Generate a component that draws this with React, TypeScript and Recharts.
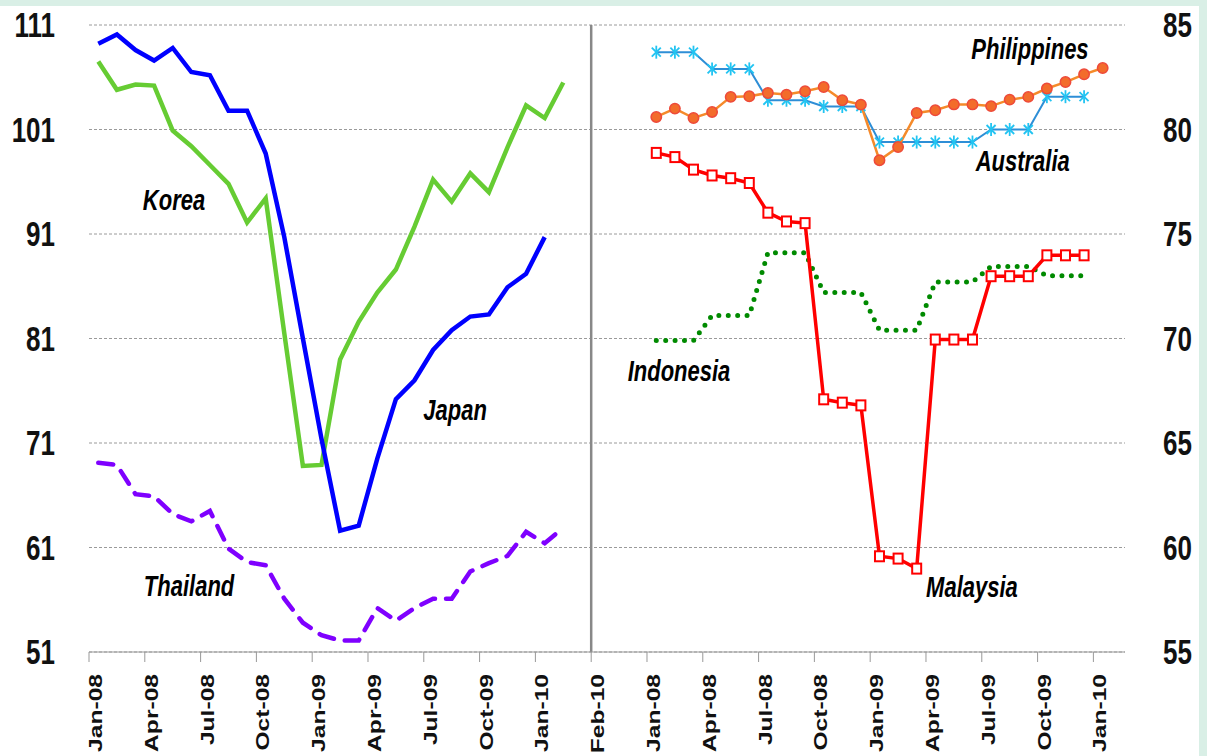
import React from 'react';
import {
  ComposedChart,
  Line,
  XAxis,
  YAxis,
  CartesianGrid,
  ReferenceLine,
  ReferenceDot,
} from 'recharts';

// left panel: Jan-08 .. Feb-10, right panel: Jan-08 .. Jan-10
const months = [
  'Jan-08', 'Feb-08', 'Mar-08', 'Apr-08', 'May-08', 'Jun-08', 'Jul-08', 'Aug-08', 'Sep-08',
  'Oct-08', 'Nov-08', 'Dec-08', 'Jan-09', 'Feb-09', 'Mar-09', 'Apr-09', 'May-09', 'Jun-09',
  'Jul-09', 'Aug-09', 'Sep-09', 'Oct-09', 'Nov-09', 'Dec-09', 'Jan-10', 'Feb-10',
];

const leftTickLabels = ['Jan-08', 'Apr-08', 'Jul-08', 'Oct-08', 'Jan-09', 'Apr-09', 'Jul-09', 'Oct-09', 'Jan-10', 'Feb-10'];
const rightTickLabels = ['Jan-08', 'Apr-08', 'Jul-08', 'Oct-08', 'Jan-09', 'Apr-09', 'Jul-09', 'Oct-09', 'Jan-10'];
const leftValueTicks = [51, 61, 71, 81, 91, 101, 111];
const rightValueTicks = [55, 60, 65, 70, 75, 80, 85];

// left axis series
const japan = [109.2, 110.1, 108.6, 107.6, 108.8, 106.5, 106.2, 102.8, 102.8, 98.7, 90.7, 81.0, 71.4,
  62.6, 63.1, 69.5, 75.2, 77.0, 79.9, 81.8, 83.1, 83.3, 85.9, 87.2, 90.7];
const korea = [107.5, 104.8, 105.3, 105.2, 100.9, 99.4, 97.6, 95.8, 92.1, 94.4, 81.5, 68.8, 68.9,
  79.0, 82.6, 85.4, 87.6, 91.7, 96.2, 94.1, 96.8, 95.0, 99.3, 103.3, 102.1, 105.5];
const thailand = [69.1, 68.9, 66.1, 65.9, 64.2, 63.5, 64.5, 60.9, 59.6, 59.3, 56.1, 53.8, 52.6,
  52.1, 52.1, 55.2, 54.0, 55.2, 56.1, 56.1, 58.7, 59.5, 60.2, 62.5, 61.4, 62.9];

// right axis series
const philippines = [80.6, 81.0, 80.55, 80.84, 81.56, 81.59, 81.75, 81.67, 81.83, 82.03, 81.4, 81.19,
  78.53, 79.16, 80.79, 80.92, 81.2, 81.2, 81.12, 81.43, 81.56, 81.96, 82.27, 82.64, 82.94];
const australia = [83.7, 83.7, 83.7, 82.9, 82.9, 82.9, 81.4, 81.4, 81.4, 81.1, 81.1, 81.1,
  79.4, 79.4, 79.4, 79.4, 79.4, 79.4, 80.0, 80.0, 80.0, 81.57, 81.57, 81.57];
const indonesia = [69.9, 69.9, 69.9, 71.1, 71.1, 71.1, 74.1, 74.1, 74.1, 72.2, 72.2, 72.2,
  70.4, 70.4, 70.4, 72.7, 72.7, 72.7, 73.45, 73.45, 73.45, 73.0, 73.0, 73.0];
const malaysia = [78.88, 78.68, 78.08, 77.8, 77.67, 77.44, 76.02, 75.6, 75.52, 67.09, 66.93, 66.8,
  59.58, 59.47, 58.99, 69.95, 69.95, 69.95, 72.98, 72.98, 72.98, 73.98, 73.98, 73.98];

const RIGHT_OFFSET = 30; // right panel starts 3 months after the left panel ends
const FONT = '"Liberation Sans", Arial, sans-serif';
const STRETCH = 1.33;

const toPoints = (vals: number[], offset: number) =>
  vals.map((v, i) => ({ x: offset + i + 0.5, month: months[i], v }));

const tickPositions = [
  ...leftTickLabels.map((_, k) => k * 3),
  ...rightTickLabels.map((_, k) => RIGHT_OFFSET + k * 3),
];
const tickText = (pos: number) =>
  pos < RIGHT_OFFSET ? leftTickLabels[pos / 3] : rightTickLabels[(pos - RIGHT_OFFSET) / 3];

const XTick = (props: any) => {
  const { x, y, payload } = props;
  return (
    <g transform={`translate(${x + 13},${y + 12}) scale(1,${STRETCH}) rotate(-90)`}>
      <text x={0} y={0} textAnchor="end" fontSize={18.5} fontWeight="bold" fontFamily={FONT} fill="#111">
        {tickText(payload.value)}
      </text>
    </g>
  );
};

const YTick = (props: any) => {
  const { x, y, payload, anchor } = props;
  return (
    <g transform={`translate(${x},${y}) scale(1,${STRETCH})`}>
      <text x={0} y={9.3} textAnchor={anchor} fontSize={26} fontWeight="bold" fontFamily={FONT} fill="#111">
        {payload.value}
      </text>
    </g>
  );
};

const seriesNames = [
  { name: 'Korea', x: 4.57, y: 93.27, axis: 'left' },
  { name: 'Japan', x: 19.68, y: 73.17, axis: 'left' },
  { name: 'Thailand', x: 5.38, y: 56.33, axis: 'left' },
  { name: 'Philippines', x: 50.59, y: 83.36, axis: 'right' },
  { name: 'Australia', x: 50.2, y: 78.0, axis: 'right' },
  { name: 'Indonesia', x: 31.72, y: 67.95, axis: 'right' },
  { name: 'Malaysia', x: 47.47, y: 57.62, axis: 'right' },
];

const nameShape = (label: string) => (p: any) => (
  <g transform={`translate(${p.cx},${p.cy}) scale(1,${STRETCH})`}>
    <text x={0} y={0} textAnchor="middle" fontSize={22} fontWeight="bold" fontStyle="italic" fontFamily={FONT} fill="#000">
      {label}
    </text>
  </g>
);

const circleDot = (p: any) => (
  <circle key={`c-${p.index}`} cx={p.cx} cy={p.cy} r={5.2} fill="#F36C2B" stroke="#EE4A3A" strokeWidth={1.5} />
);

const squareDot = (p: any) => (
  <rect key={`s-${p.index}`} x={p.cx - 4.5} y={p.cy - 5} width={9} height={10} fill="#fff" stroke="#FF0000" strokeWidth={2} />
);

const starDot = (p: any) => (
  <g key={`a-${p.index}`} stroke="#22C4F2" strokeWidth={1.8}>
    <line x1={p.cx} y1={p.cy - 6.5} x2={p.cx} y2={p.cy + 6.5} />
    <line x1={p.cx - 4.5} y1={p.cy - 4.5} x2={p.cx + 4.5} y2={p.cy + 4.5} />
    <line x1={p.cx - 4.5} y1={p.cy + 4.5} x2={p.cx + 4.5} y2={p.cy - 4.5} />
  </g>
);

export default function App() {
  return (
    <div style={{ position: 'absolute', left: 0, top: 0, width: 1207, height: 756, background: '#D9EFE6' }}>
      <div style={{ position: 'absolute', left: 0, top: 6, width: 1199, height: 750, background: '#fff' }} />
      <div style={{ position: 'absolute', left: 0, top: 0 }}>
        <ComposedChart width={1207} height={756} margin={{ top: 25, right: 0, bottom: 0, left: 0 }}>
          <CartesianGrid vertical={false} yAxisId="left" stroke="#9a9a9a" strokeDasharray="3 2" />
          <XAxis
            dataKey="x"
            type="number"
            domain={[0, 55.7]}
            allowDataOverflow
            ticks={tickPositions}
            interval={0}
            height={104}
            stroke="#999"
            tickSize={10}
            tickMargin={0}
            tick={<XTick />}
          />
          <YAxis
            yAxisId="left"
            domain={[51, 111]}
            ticks={leftValueTicks}
            width={89}
            axisLine={false}
            tickLine={false}
            tickSize={0}
            tickMargin={34}
            tick={<YTick anchor="end" />}
          />
          <YAxis
            yAxisId="right"
            orientation="right"
            domain={[55, 85]}
            ticks={rightValueTicks}
            width={82}
            axisLine={false}
            tickLine={false}
            tickSize={0}
            tickMargin={38}
            tick={<YTick anchor="start" />}
          />
          <ReferenceLine x={27} yAxisId="left" stroke="#888" strokeWidth={2.5} />

          <Line yAxisId="left" data={toPoints(thailand, 0)} dataKey="v" stroke="#7F00FF" strokeWidth={4.5}
            strokeDasharray="15 11" strokeLinecap="round" dot={false} isAnimationActive={false} />
          <Line yAxisId="left" data={toPoints(korea, 0)} dataKey="v" stroke="#66CC33" strokeWidth={4.5}
            dot={false} isAnimationActive={false} />
          <Line yAxisId="left" data={toPoints(japan, 0)} dataKey="v" stroke="#0000FF" strokeWidth={4.5}
            dot={false} isAnimationActive={false} />

          <Line yAxisId="right" data={toPoints(indonesia, RIGHT_OFFSET)} dataKey="v" stroke="#008A00" strokeWidth={5}
            strokeDasharray="0 9.4" strokeLinecap="round" dot={false} isAnimationActive={false} />
          <Line yAxisId="right" data={toPoints(malaysia, RIGHT_OFFSET)} dataKey="v" stroke="#FF0000" strokeWidth={3.5}
            dot={squareDot} isAnimationActive={false} />
          <Line yAxisId="right" data={toPoints(australia, RIGHT_OFFSET)} dataKey="v" stroke="#2E8ED6" strokeWidth={2}
            dot={starDot} isAnimationActive={false} />
          <Line yAxisId="right" data={toPoints(philippines, RIGHT_OFFSET)} dataKey="v" stroke="#F58A2A" strokeWidth={2.5}
            dot={circleDot} isAnimationActive={false} />

          {seriesNames.map((s) => (
            <ReferenceDot key={s.name} yAxisId={s.axis} x={s.x} y={s.y} r={1} shape={nameShape(s.name)} />
          ))}
        </ComposedChart>
      </div>
    </div>
  );
}
